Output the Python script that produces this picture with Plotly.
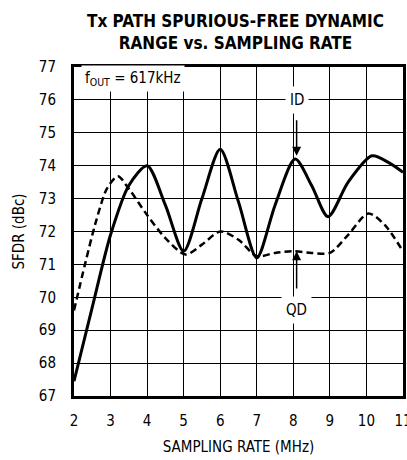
import plotly.graph_objects as go

# ID (solid) series
id_x = [2, 2.5, 3, 3.5, 4, 4.5, 5, 5.5, 6, 6.5, 7, 7.5, 8.05, 8.5, 8.95, 9.5, 10.15, 10.6, 11]
id_y = [67.45, 69.7, 71.9, 73.4, 74.0, 72.8, 71.4, 73.0, 74.5, 72.9, 71.2, 72.8, 74.2, 73.4, 72.45, 73.5, 74.3, 74.1, 73.8]

# QD (dashed) series
qd_x = [2, 2.3, 2.6, 2.9, 3.2, 3.5, 4, 4.5, 5.05, 5.5, 6, 6.5, 7, 7.5, 8, 8.5, 9, 9.5, 10.05, 10.5, 11]
qd_y = [69.6, 71.0, 72.3, 73.3, 73.68, 73.3, 72.5, 71.8, 71.3, 71.6, 72.0, 71.75, 71.25, 71.35, 71.4, 71.35, 71.35, 71.9, 72.55, 72.2, 71.4]

x_ticks = [2, 3, 4, 5, 6, 7, 8, 9, 10, 11]
y_ticks = [67, 68, 69, 70, 71, 72, 73, 74, 75, 76, 77]

FONT = "DejaVu Sans Condensed, Liberation Sans Narrow, Arial Narrow, sans-serif"

fig = go.Figure()
fig.add_trace(go.Scatter(x=qd_x, y=qd_y, mode="lines",
                         line=dict(color="black", width=2.5, dash="7px,4px", shape="spline", smoothing=0.8),
                         showlegend=False))
fig.add_trace(go.Scatter(x=id_x, y=id_y, mode="lines",
                         line=dict(color="black", width=3, shape="spline", smoothing=0.8),
                         showlegend=False))

fig.update_layout(
    width=407, height=460,
    margin=dict(l=74, r=4, t=67, b=64),
    paper_bgcolor="white", plot_bgcolor="white",
    font=dict(family=FONT, color="black", size=15),
    xaxis=dict(range=[2, 11], tickvals=x_ticks, ticktext=[str(t) for t in x_ticks],
               showgrid=True, gridcolor="black", gridwidth=1,
               showline=True, linecolor="black", linewidth=3, mirror=True,
               ticks="", ticklabelstandoff=9, ticklabeloverflow="allow", automargin=False,
               title=dict(text="SAMPLING RATE (MHz)", font=dict(size=15), standoff=13),
               zeroline=False),
    yaxis=dict(range=[67, 77], tickvals=y_ticks, ticktext=[str(t) for t in y_ticks],
               showgrid=True, gridcolor="black", gridwidth=1,
               showline=True, linecolor="black", linewidth=3, mirror=True,
               ticks="", ticklabelstandoff=12, automargin=False,
               title=dict(text="SFDR (dBc)", font=dict(size=15), standoff=11),
               zeroline=False),
)

fig.add_annotation(x=0.49, y=1, xref="paper", yref="paper", xanchor="center", yanchor="bottom",
                   yshift=12, showarrow=False,
                   text="<b>Tx PATH SPURIOUS-FREE DYNAMIC<br>RANGE vs. SAMPLING RATE</b>",
                   font=dict(family=FONT, size=17))
fig.add_annotation(x=2.2, y=76.65, xref="x", yref="y", xanchor="left", yanchor="middle",
                   text="f<sub>OUT</sub> = 617kHz", showarrow=False,
                   bgcolor="white", borderpad=3, font=dict(size=15))
fig.add_annotation(x=8.09, y=76.0, xref="x", yref="y", text="ID", showarrow=False,
                   bgcolor="white", borderpad=4, font=dict(size=15))
fig.add_annotation(x=8.09, y=74.3, ax=8.09, ay=75.7, xref="x", yref="y", axref="x", ayref="y",
                   text=" ", showarrow=True, arrowhead=2, arrowsize=1.2, arrowwidth=1.5, arrowcolor="black")
fig.add_annotation(x=8.09, y=69.6, xref="x", yref="y", text="QD", showarrow=False,
                   bgcolor="white", borderpad=4, font=dict(size=15))
fig.add_annotation(x=8.09, y=71.4, ax=8.09, ay=69.95, xref="x", yref="y", axref="x", ayref="y",
                   text=" ", showarrow=True, arrowhead=2, arrowsize=1.2, arrowwidth=1.5, arrowcolor="black")

fig.write_html("out.html", config={"displayModeBar": False},
               post_script="document.body.style.margin='0';document.body.style.overflow='hidden';")
